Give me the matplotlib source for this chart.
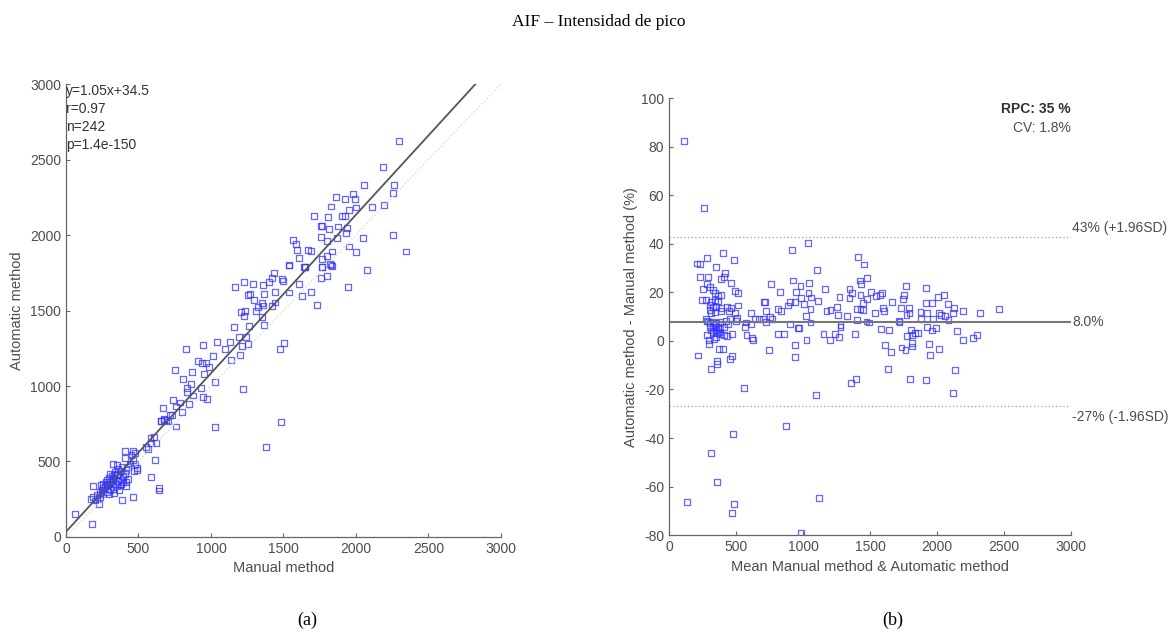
import numpy as np
import matplotlib.pyplot as plt

# (a) regression: manual vs automatic peak intensity
manual = [60, 177, 189, 172, 225, 239, 384, 464, 586, 616, 639, 644, 405, 464, 407, 487, 476, 552, 563,
          188, 211, 234, 245, 257, 268, 280, 291, 303, 314, 326, 326, 349, 303, 337, 360, 372, 383, 394,
          406, 417, 429, 440, 452, 463, 475, 491, 470, 280, 234, 257, 303, 326, 349, 372, 383, 291, 314,
          337, 360, 394, 411, 589, 619, 606, 583, 656, 674, 693, 716,
          257, 275, 284, 298, 314, 333, 349, 372, 360, 383, 349, 326, 417, 429, 367, 333, 296, 245, 211, 202,
          759, 752, 809, 825, 832, 837, 851, 786, 740, 756, 800, 671, 657, 678, 701, 729, 878, 860, 871,
          910, 938, 943, 963, 986, 952, 933, 943, 975, 1016, 1025, 1028, 1039, 1099, 1133, 1136, 1161,
          1166, 1195, 1200, 1205, 1230, 1234, 1225, 1223, 1214, 1241, 1257, 1269, 1260, 1255, 1292, 1297,
          1308, 1326, 1352, 1349, 1361, 1363, 1359, 1363, 1377, 1402, 1418, 1434, 1418, 1441, 1441, 1483,
          1476, 1501, 1487, 1499, 1536, 1536, 1605, 1628, 1646, 1651, 1690, 1729, 1761, 1763, 1802, 1828,
          1943, 2078,
          2297, 2186, 2053, 2262, 2253, 2191, 2108, 1862, 1924, 1977, 1995, 1828, 2002, 1952, 1710, 1807,
          1901, 1926, 1761, 1766, 1816, 1878, 1940, 1929, 1759, 1869, 2046, 2257, 1802, 1952, 1568, 1586,
          1595, 1669, 1687, 1834, 1998, 2345, 1609, 1766, 1798, 1536, 1641, 1763, 1823, 1832]
automatic = [154, 88, 336, 249, 216, 343, 244, 262, 400, 510, 308, 323, 572, 572, 523, 446, 556, 594, 583,
             264, 280, 298, 313, 327, 336, 342, 353, 364, 376, 387, 482, 476, 416, 431, 409, 398, 380, 398,
             420, 442, 464, 487, 542, 509, 482, 458, 438, 298, 264, 291, 309, 320, 336, 342, 353, 320, 342,
             353, 371, 364, 338, 624, 624, 664, 658, 769, 776, 776, 809,
             353, 364, 380, 393, 402, 409, 420, 438, 453, 464, 376, 364, 364, 387, 313, 291, 287, 287, 253, 242,
             732, 1106, 1045, 1243, 985, 959, 880, 891, 908, 864, 825, 856, 770, 783, 765, 805, 937, 1014, 1091,
             1166, 1150, 1269, 1150, 1128, 1078, 985, 930, 915, 1201, 1025, 726, 1289, 1247, 1289, 1172, 1390,
             1656, 1326, 1203, 1491, 1689, 1495, 1465, 981, 1265, 1322, 1605, 1610, 1399, 1276, 1676, 1568,
             1495, 1522, 1550, 1458, 1667, 1610, 1533, 1405, 598, 1689, 1715, 1748, 1531, 1621, 1553, 759,
             1243, 1282, 1709, 1698, 1619, 1799, 1674, 1597, 1788, 1788, 1621, 1537, 1713, 1790, 1731, 1799,
             1658, 1770,
             2620, 2451, 2333, 2329, 2280, 2200, 2187, 2249, 2238, 2269, 2238, 2189, 2182, 2164, 2127, 2118,
             2127, 2127, 2062, 2062, 2038, 2056, 2044, 2013, 1987, 1978, 1980, 1998, 1962, 1924, 1969, 1940,
             1902, 1902, 1893, 1891, 1887, 1891, 1847, 1840, 1860, 1798, 1789, 1791, 1807, 1796]
slope, intercept = 1.05, 34.5
stats_lines = ["y=1.05x+34.5", "r=0.97", "n=242", "p=1.4e-150"]

# (b) Bland-Altman: mean vs percentage difference
ba_mean = [112, 259, 212, 229, 286, 403, 353, 483, 418, 229, 294, 921, 1036, 1103, 1409, 1456, 1478, 391, 408,
           463, 254, 284, 304, 329, 346, 366, 391, 249, 279, 316, 341, 366, 304, 329, 353, 391, 436, 460,
           495, 518, 513, 451, 490, 510, 304, 316, 341, 391, 274, 284, 294, 306, 329, 353, 378, 428, 453,
           500, 304, 329, 349, 366, 383, 329, 358, 383, 408, 436, 470, 443, 284, 299, 336, 296, 219, 373,
           403, 458, 473, 361, 361, 311, 560, 573, 570, 578, 615, 615, 617, 627, 640, 672, 702, 710, 719,
           722, 727, 747, 752, 767, 764, 812, 829, 837, 814, 859, 876, 906, 891, 901, 923, 938, 948, 981,
           961, 971, 938, 943, 1008, 1021, 983, 1041, 1043, 1058, 1056, 1056, 1026, 1113, 1100, 1120, 988,
           1153, 1165, 1175, 1205, 1202, 1240, 1255, 1260, 1270, 1272, 1280, 1280, 1329, 1347, 1347, 1359,
           1364, 1386, 1394, 1401, 1404, 1429, 1426, 1434, 1429, 1451, 1446, 1474, 1478, 1494, 1508, 1536,
           1543, 1573, 1588, 1581, 1598, 1603, 1613, 1633, 1645, 1655, 1665, 1718, 1720, 1730, 1735, 1748,
           1755, 1767, 1765, 1772, 1777, 1790, 1795, 1797, 1805, 1815, 1815, 1815, 1834, 1860, 1877, 1882,
           1917, 1917, 1919, 1922, 1927, 1937, 1947, 1962, 1967, 1964, 1991, 2009, 2012, 2014, 2029, 2054,
           2061, 2084, 2086, 2118, 2126, 2118, 2131, 2148, 2193, 2193, 2268, 2298, 2320, 2460,
           480, 314, 358, 132, 483, 473, 341, 373, 408, 316, 353]
ba_diff = [82.4, 54.9, 31.9, 31.6, 34.2, 36.3, 30.5, 33.5, 27.9, 26.5, 26.5, 37.4, 40.4, 29.3, 34.6, 31.5, 26.0, 25.5, 26.2,
           23.8, 21.4, 23.5, 22.4, 21.0, 19.6, 18.7, 19.0, 16.9, 16.9, 16.2, 16.9, 16.6, 14.8, 14.1, 14.1, 13.7, 14.1, 13.7,
           20.7, 19.6, 14.6, 12.5, 11.4, 9.3, 12.8, 11.4, 12.1, 12.5, 8.9, 8.4, 8.0, 7.3, 8.0, 7.3, 7.8, 8.4, 8.9,
           8.4, 5.9, 5.2, 4.5, 5.9, 5.1, 3.8, 3.2, 2.9, 2.3, 2.1, 3.0, 6.9, 2.3, 0.4, 0.8, -1.4, -6.0, -3.3,
           -3.4, -7.3, -6.2, -8.4, -9.5, -11.5, -19.5, 7.6, 5.9, 2.3, 6.9, 11.4, 1.1, 0.5, 8.9, 8.9, 8.9, 16.2, 16.2,
           12.5, 7.8, -3.6, 9.8, 8.9, 23.5, 13.3, 20.3, 12.5, 3.0, 3.0, -34.9, 6.9, 14.6, 16.2, 24.9, 15.9, 20.3, 22.7,
           5.4, 5.4, -1.5, -6.5, 15.4, 10.3, 17.6, 19.9, 24.0, 17.9, 13.0, 7.6, 0.3, 16.6, -22.3, -64.6, -79.0,
           3.0, 21.3, 12.5, 12.8, 0.5, 3.0, 14.1, 10.6, 1.8, 18.0, 6.7, 5.9, 10.3, 21.4, 17.6, -17.4,
           19.6, 3.0, -15.7, 8.7, 13.3, 13.2, 24.9, 23.5, 19.1, 15.8, 12.8, 8.0, 17.2, 7.6, 20.1, 11.7,
           18.5, 19.1, 19.9, 4.8, 13.7, 12.4, -1.5, -11.5, 4.4, -4.4, 16.2, 8.4, 7.8, 13.7, -2.7, 17.2,
           19.1, 22.8, -3.7, 10.7, 1.9, 13.5, 11.4, -15.7, 4.4, 2.6, -1.0, -2.3, 3.4, 3.4, 12.1, 8.9,
           21.7, 15.5, -16.1, 5.9, 11.7, -1.1, -5.8, 15.8, 8.9, 4.3, 5.2, 18.0, 11.4, -3.3, 10.7, 19.1,
           10.3, 15.2, 8.7, 11.7, 13.5, -21.3, -12.0, 4.1, 12.5, 0.5, 1.2, 2.6, 11.7, 13.0,
           -38.2, -46.0, -58.0, -66.3, -67.3, -70.9, 6.6, 3.8, 5.9, 4.3, 1.8]
bias, upper_loa, lower_loa = 8.0, 43.0, -27.0

plt.rcParams['font.family'] = ['Liberation Sans', 'DejaVu Sans']
plt.rcParams['axes.unicode_minus'] = False
grey = '#4d4d4d'
blue = (0.2, 0.2, 1.0, 0.75)

fig = plt.figure(figsize=(11.7, 6.34), dpi=100)
fig.text(0.512, 0.965, "AIF \u2013 Intensidad de pico", family='Liberation Serif',
         fontsize=12.5, ha='center', va='center')
fig.text(0.263, 0.022, "(a)", family='Liberation Serif', fontsize=13, ha='center', va='center')
fig.text(0.763, 0.022, "(b)", family='Liberation Serif', fontsize=13, ha='center', va='center')


def style_axes(ax):
    for side in ('top', 'right'):
        ax.spines[side].set_visible(False)
    for side in ('left', 'bottom'):
        ax.spines[side].set_color('#666666')
        ax.spines[side].set_linewidth(0.9)
    ax.tick_params(direction='in', length=3, color='#666666', labelcolor=grey, labelsize=10)


# ---- (a) ----
ax1 = fig.add_axes([0.0564, 0.153, 0.3718, 0.7145])
xs = np.array([0, 3000])
ax1.plot(xs, xs, color='#d8d8d8', linestyle=':', linewidth=1.0)
ax1.plot(xs, slope * xs + intercept, color='#555555', linewidth=1.3)
ax1.scatter(manual, automatic, marker='s', s=18, facecolors='none', edgecolors=[blue], linewidths=0.9)
ax1.set_xlim(0, 3000)
ax1.set_ylim(0, 3000)
ax1.set_xticks(np.arange(0, 3001, 500))
ax1.set_yticks(np.arange(0, 3001, 500))
style_axes(ax1)
ax1.set_xlabel("Manual method", color=grey, fontsize=10.5, labelpad=4)
ax1.set_ylabel("Automatic method", color=grey, fontsize=10.5, labelpad=4)
ax1.text(0.0, 1.0, "\n".join(stats_lines), transform=ax1.transAxes, ha='left', va='top',
         fontsize=10, color='#333333', linespacing=1.35)

# ---- (b) ----
ax2 = fig.add_axes([0.5718, 0.156, 0.3436, 0.689])
ax2.plot(xs, [upper_loa, upper_loa], color='#aaaaaa', linestyle=':', linewidth=1.0)
ax2.plot(xs, [lower_loa, lower_loa], color='#aaaaaa', linestyle=':', linewidth=1.0)
ax2.plot(xs, [bias, bias], color='#777777', linewidth=1.5)
ax2.scatter(ba_mean, ba_diff, marker='s', s=18, facecolors='none', edgecolors=[blue], linewidths=0.9)
ax2.set_xlim(0, 3000)
ax2.set_ylim(-80, 100)
ax2.set_xticks(np.arange(0, 3001, 500))
ax2.set_yticks(np.arange(-80, 101, 20))
style_axes(ax2)
ax2.set_xlabel("Mean Manual method & Automatic method", color=grey, fontsize=10.5, labelpad=4)
ax2.set_ylabel("Automatic method - Manual method (%)", color=grey, fontsize=10.5, labelpad=2)
ax2.text(3010, upper_loa + 0.5, "43% (+1.96SD)", ha='left', va='bottom', fontsize=10, color=grey)
ax2.text(3010, bias, "8.0%", ha='left', va='center', fontsize=10, color=grey)
ax2.text(3010, lower_loa - 1.5, "-27% (-1.96SD)", ha='left', va='top', fontsize=10, color=grey)
ax2.text(1.0, 0.975, "RPC: 35 %", transform=ax2.transAxes, ha='right', va='center',
         fontsize=10, fontweight='bold', color='#333333')
ax2.text(1.0, 0.932, "CV: 1.8%", transform=ax2.transAxes, ha='right', va='center',
         fontsize=10, color=grey)

fig.savefig("out.png", dpi=100)
